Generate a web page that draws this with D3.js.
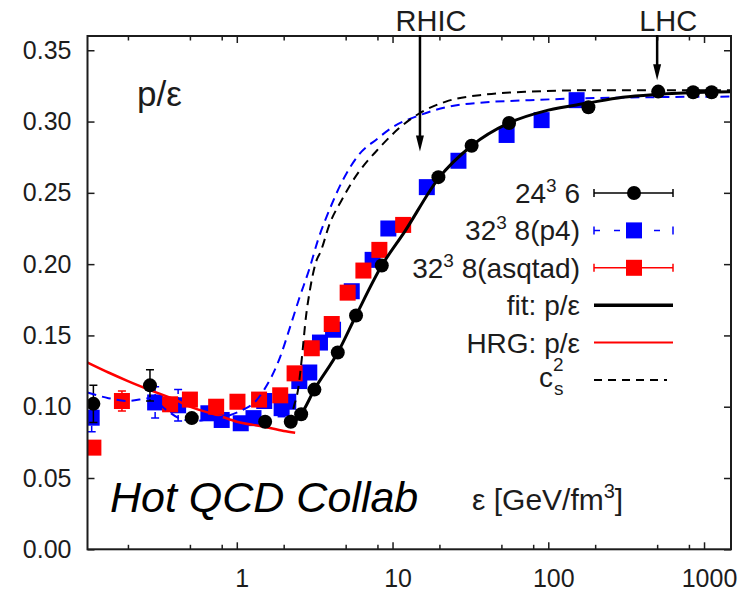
<!DOCTYPE html>
<html>
<head>
<meta charset="utf-8">
<script src="https://cdn.jsdelivr.net/npm/d3@7"></script>
<style>
body{margin:0;background:#fff;}
svg{font-family:"Liberation Sans",Arial,sans-serif;}
</style>
</head>
<body>
<svg id="chart" width="746" height="595"></svg>
<script>
// 24^3 x 6 (black circles)
var eps6 = [0.12, 0.277, 0.514, 1.52, 2.22, 2.59, 3.15, 4.45, 5.83, 8.53, 19.7, 32.2, 56, 181, 508, 851, 1119];
var p6   = [0.102, 0.115, 0.092, 0.0895, 0.0895, 0.0947, 0.112, 0.138, 0.164, 0.199, 0.261, 0.283, 0.299, 0.310, 0.321, 0.3205, 0.3205];
var err6 = [0.013, 0.011, 0.002, 0.001, 0.001, 0.001, 0.001, 0.001, 0.001, 0.001, 0.001, 0.001, 0.001, 0.001, 0.001, 0.001, 0.001];

// 32^3 x 8 p4 (blue squares)
var epsP4 = [0.117, 0.299, 0.42, 0.657, 0.80, 1.06, 1.28, 1.5, 1.94, 2.14, 2.52, 2.92, 3.42, 4.15, 5.47, 7.45, 9.4, 16.6, 26.5, 54, 90.6, 152];
var pP4   = [0.0923, 0.103, 0.101, 0.0954, 0.0907, 0.0884, 0.092, 0.104, 0.099, 0.1035, 0.118, 0.124, 0.145, 0.154, 0.181, 0.203, 0.225, 0.254, 0.2725, 0.2906, 0.301, 0.315];
var errP4 = [0.0098, 0.011, 0.011, 0.004, 0.003, 0.003, 0.003, 0.003, 0.006, 0.003, 0.002, 0.002, 0.002, 0.002, 0.002, 0.002, 0.002, 0.001, 0.001, 0.001, 0.001, 0.001];

// 32^3 x 8 asqtad (red squares)
var epsAsq = [0.12, 0.183, 0.373, 0.50, 0.737, 1.01, 1.39, 1.9, 2.35, 3.03, 4.07, 5.15, 6.5, 8.23, 11.7];
var pAsq   = [0.0713, 0.104, 0.1017, 0.105, 0.100, 0.1035, 0.105, 0.108, 0.1234, 0.141, 0.158, 0.180, 0.1955, 0.210, 0.2275];
var errAsq = [0.002, 0.007, 0.003, 0.003, 0.002, 0.002, 0.002, 0.002, 0.002, 0.002, 0.002, 0.002, 0.002, 0.002, 0.002];

// fit: p/eps
var fitEps = [2.22, 2.6, 3.15, 4.45, 5.83, 8.53, 12, 19.7, 32.2, 56, 100, 180, 300, 500, 1000, 1490];
var fitP   = [0.087, 0.095, 0.112, 0.138, 0.164, 0.199, 0.223, 0.260, 0.283, 0.299, 0.308, 0.313, 0.317, 0.319, 0.3205, 0.321];

// HRG: p/eps
var hrgEps = [0.11, 0.15, 0.2, 0.28, 0.4, 0.5, 0.78, 1.0, 1.5, 2.0, 2.37];
var hrgP   = [0.131, 0.124, 0.118, 0.1115, 0.105, 0.100, 0.0935, 0.0895, 0.086, 0.083, 0.0818];

// c_s^2 from fit (black dashed)
var csEps = [2.2, 2.3, 2.49, 2.61, 2.78, 2.95, 3.26, 3.43, 3.97, 4.72, 5.6, 8.3, 11.2, 15, 22, 40, 76, 200, 1490];
var csP   = [0.088, 0.098, 0.114, 0.133, 0.163, 0.182, 0.203, 0.208, 0.229, 0.245, 0.259, 0.282, 0.296, 0.306, 0.314, 0.319, 0.321, 0.322, 0.322];

// c_s^2 p4 (blue dashed)
var csP4Eps = [0.11, 0.15, 0.2, 0.28, 0.35, 0.45, 0.55, 0.7, 0.9, 1.1, 1.3, 1.5, 1.9, 2.2, 2.5, 2.95, 3.3, 4.0, 4.8, 6, 8, 10, 15, 22, 40, 76, 200, 1490];
var csP4P   = [0.110, 0.106, 0.104, 0.106, 0.098, 0.091, 0.090, 0.092, 0.094, 0.098, 0.103, 0.112, 0.135, 0.156, 0.175, 0.198, 0.216, 0.240, 0.259, 0.276, 0.288, 0.296, 0.3045, 0.310, 0.3135, 0.315, 0.3165, 0.3175];

var yTicks = [0, 0.05, 0.10, 0.15, 0.20, 0.25, 0.30, 0.35];
var xMajor = [1, 10, 100, 1000];
var xMinor = [0.2, 0.5, 0.8, 2, 5, 8, 20, 50, 80, 200, 500, 800];

var arrowEps = [15, 500];
var arrowTip = [0.279, 0.329];
var arrowLbl = ["RHIC", "LHC"];

var legendLbl = ["24", "32", "32", "fit: p/ε", "HRG: p/ε", "c"];

var svg = d3.select("#chart");
var ink = "#1c1c1c";

var x = d3.scaleLog().domain([0.11, 1490]).range([87.5, 731]);
var y = d3.scaleLinear().domain([0, 0.36]).range([549.3, 36]);

function zipData(a, b, c){
	return a.map(function(v, i){ return {e: v, p: b[i], s: c ? c[i] : 0}; });
}

function styleAxis(g, size){
	g.select(".domain").remove();
	g.selectAll("line").attr("stroke", ink).attr("stroke-width", 1.5);
	g.selectAll("text").attr("fill", ink).attr("font-size", size)
		.attr("font-family", "Liberation Sans, Arial, sans-serif");
}

// axes
svg.append("g").attr("transform", "translate(87.5,0)")
	.call(d3.axisLeft(y).tickValues(yTicks).tickFormat(d3.format(".2f")).tickSize(-7).tickSizeOuter(0).tickPadding(16))
	.call(styleAxis, 25);
svg.append("g").attr("transform", "translate(731,0)")
	.call(d3.axisRight(y).tickValues(yTicks).tickFormat("").tickSize(-7).tickSizeOuter(0))
	.call(styleAxis, 25);
svg.append("g").attr("transform", "translate(0,549.3)")
	.call(d3.axisBottom(x).tickValues(xMajor).tickFormat(d3.format("d")).tickSize(-7).tickSizeOuter(0).tickPadding(20))
	.call(styleAxis, 25)
	.selectAll("text").attr("dx", 5);
svg.append("g").attr("transform", "translate(0,549.3)")
	.call(d3.axisBottom(x).tickValues(xMinor).tickFormat("").tickSize(-4.5).tickSizeOuter(0))
	.call(styleAxis, 25);
svg.append("g").attr("transform", "translate(0,36)")
	.call(d3.axisTop(x).tickValues(xMajor).tickFormat("").tickSize(-7).tickSizeOuter(0))
	.call(styleAxis, 25);
svg.append("g").attr("transform", "translate(0,36)")
	.call(d3.axisTop(x).tickValues(xMinor).tickFormat("").tickSize(-4.5).tickSizeOuter(0))
	.call(styleAxis, 25);

svg.append("clipPath").attr("id", "plotclip").append("rect")
	.attr("x", 87.5).attr("y", 36).attr("width", 643.5).attr("height", 513.3);

var plot = svg.append("g").attr("clip-path", "url(#plotclip)");

var line = d3.line()
	.x(function(d){ return x(d.e); })
	.y(function(d){ return y(d.p); })
	.curve(d3.curveMonotoneX);

function errorBars(data, color, dash){
	var g = plot.append("g").attr("stroke", color).attr("stroke-width", 1.5);
	data.forEach(function(d){
		var cx = x(d.e);
		g.append("line").attr("x1", cx).attr("x2", cx)
			.attr("y1", y(d.p - d.s)).attr("y2", y(d.p + d.s))
			.attr("stroke-dasharray", dash ? "6,3" : null);
		[d.p - d.s, d.p + d.s].forEach(function(v){
			g.append("line").attr("x1", cx - 4).attr("x2", cx + 4)
				.attr("y1", y(v)).attr("y2", y(v));
		});
	});
}

function squares(data, color){
	plot.append("g").selectAll("rect").data(data).enter().append("rect")
		.attr("x", function(d){ return x(d.e) - 8; })
		.attr("y", function(d){ return y(d.p) - 8; })
		.attr("width", 16).attr("height", 16)
		.attr("fill", color);
}

var dP4 = zipData(epsP4, pP4, errP4);
var dAsq = zipData(epsAsq, pAsq, errAsq);
var d6 = zipData(eps6, p6, err6);

errorBars(dP4, "#0000ff", true);
squares(dP4, "#0000ff");
errorBars(dAsq, "#ff0000", false);
squares(dAsq, "#ff0000");
errorBars(d6, "#000", false);

// curves
plot.append("path").datum(zipData(hrgEps, hrgP))
	.attr("d", line).attr("fill", "none").attr("stroke", "#ff0000").attr("stroke-width", 2.5);
plot.append("path").datum(zipData(csP4Eps, csP4P))
	.attr("d", line).attr("fill", "none").attr("stroke", "#0000ff").attr("stroke-width", 2)
	.attr("stroke-dasharray", "9,6");
plot.append("path").datum(zipData(csEps, csP))
	.attr("d", line).attr("fill", "none").attr("stroke", "#000").attr("stroke-width", 2)
	.attr("stroke-dasharray", "9,6");
plot.append("path").datum(zipData(fitEps, fitP))
	.attr("d", line).attr("fill", "none").attr("stroke", "#000").attr("stroke-width", 3);

plot.append("g").selectAll("circle").data(d6).enter().append("circle")
	.attr("cx", function(d){ return x(d.e); })
	.attr("cy", function(d){ return y(d.p); })
	.attr("r", 7).attr("fill", "#000");

// frame
svg.append("rect").attr("x", 87.5).attr("y", 36).attr("width", 643.5).attr("height", 513.3)
	.attr("fill", "none").attr("stroke", ink).attr("stroke-width", 2);

// RHIC / LHC arrows
arrowEps.forEach(function(e, i){
	var ax = x(e), tip = y(arrowTip[i]);
	svg.append("line").attr("x1", ax).attr("x2", ax).attr("y1", 35).attr("y2", tip - 10)
		.attr("stroke", "#000").attr("stroke-width", 2.5);
	svg.append("path")
		.attr("d", "M" + ax + "," + tip + "L" + (ax - 4) + "," + (tip - 16) + "L" + (ax + 4) + "," + (tip - 16) + "Z")
		.attr("fill", "#000");
	svg.append("text").attr("x", ax + 11).attr("y", 30.5).attr("text-anchor", "middle")
		.attr("font-size", 29).attr("fill", ink).text(arrowLbl[i]);
});

// inner labels
svg.append("text").attr("x", 137).attr("y", 106).attr("font-size", 35).attr("fill", ink).text("p/ε");
svg.append("text").attr("x", 110).attr("y", 512).attr("font-size", 43).attr("font-style", "italic")
	.attr("fill", "#000").text("Hot QCD Collab");
var xl = svg.append("text").attr("x", 472).attr("y", 510).attr("font-size", 30).attr("fill", ink);
xl.append("tspan").text("ε [GeV/fm");
xl.append("tspan").attr("font-size", 20).attr("dy", -12).text("3");
xl.append("tspan").attr("dy", 12).text("]");

// legend
var lgY0 = 193, lgStep = 37.4, lgX1 = 594, lgX2 = 673, lgMid = 634;
var lg = svg.append("g");
function lgRow(i){ return lgY0 + i * lgStep; }

function lgText(i, main, sup, rest){
	var t = lg.append("text").attr("x", 580).attr("y", lgRow(i) + 10).attr("text-anchor", "end")
		.attr("font-size", 28).attr("fill", ink);
	t.append("tspan").text(main);
	if(sup){
		t.append("tspan").attr("font-size", 19).attr("dy", -11).text(sup);
		t.append("tspan").attr("dy", 11).text(rest);
	}
}
lgText(0, legendLbl[0], "3", " 6");
lgText(1, legendLbl[1], "3", " 8(p4)");
lgText(2, legendLbl[2], "3", " 8(asqtad)");
lgText(3, legendLbl[3]);
lgText(4, legendLbl[4]);
lg.append("text").attr("x", 553).attr("y", lgRow(5) + 7).attr("text-anchor", "end")
	.attr("font-size", 28).attr("fill", ink).text(legendLbl[5]);
lg.append("text").attr("x", 553).attr("y", lgRow(5) - 9).attr("font-size", 19).attr("fill", ink).text("2");
lg.append("text").attr("x", 554).attr("y", lgRow(5) + 15).attr("font-size", 19).attr("fill", ink).text("s");

var lgColors = ["#000", "#0000ff", "#ff0000"];
lgColors.forEach(function(c, i){
	var yy = lgRow(i);
	lg.append("line").attr("x1", lgX1).attr("x2", lgX2).attr("y1", yy).attr("y2", yy)
		.attr("stroke", c).attr("stroke-width", 1.5).attr("stroke-dasharray", i == 1 ? "6,14" : null);
	[lgX1, lgX2].forEach(function(xx){
		lg.append("line").attr("x1", xx).attr("x2", xx).attr("y1", yy - 4).attr("y2", yy + 4)
			.attr("stroke", c).attr("stroke-width", 1.5);
	});
	if(i == 0){
		lg.append("circle").attr("cx", lgMid).attr("cy", yy).attr("r", 7).attr("fill", c);
	} else {
		lg.append("rect").attr("x", lgMid - 8).attr("y", yy - 8).attr("width", 16).attr("height", 16).attr("fill", c);
	}
});
lg.append("line").attr("x1", lgX1).attr("x2", lgX2).attr("y1", lgRow(3)).attr("y2", lgRow(3))
	.attr("stroke", "#000").attr("stroke-width", 3.5);
lg.append("line").attr("x1", lgX1).attr("x2", lgX2).attr("y1", lgRow(4)).attr("y2", lgRow(4))
	.attr("stroke", "#ff0000").attr("stroke-width", 2);
lg.append("line").attr("x1", lgX1).attr("x2", lgX2 - 6).attr("y1", lgRow(5)).attr("y2", lgRow(5))
	.attr("stroke", "#000").attr("stroke-width", 2).attr("stroke-dasharray", "8,6");
</script>
</body>
</html>
